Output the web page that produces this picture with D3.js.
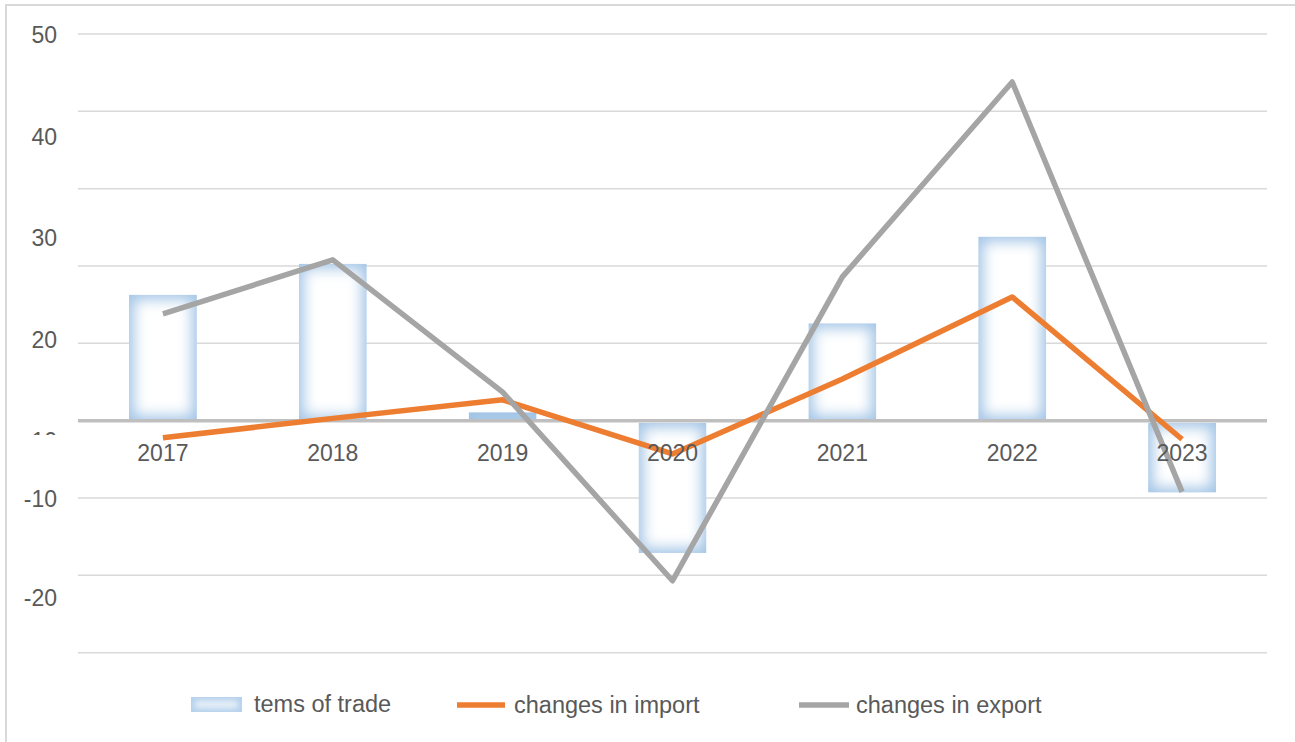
<!DOCTYPE html>
<html>
<head>
<meta charset="utf-8">
<script src="https://cdn.jsdelivr.net/npm/d3@7"></script>
<style>
  body { margin: 0; background: #fff; }
  text { font-family: "Liberation Sans", Arial, sans-serif; fill: #595959; }
</style>
</head>
<body>
<div class="chart"></div>
<script>
// chart data
const years = ['2017', '2018', '2019', '2020', '2021', '2022', '2023'];
const termsOfTrade = [16.3, 20.3, 1.1, -17.1, 12.6, 23.8, -9.3];
const importChange = [-2.2, 0.3, 2.7, -4.3, 5.4, 16.0, -2.4];
const exportChange = [13.8, 20.8, 3.7, -20.7, 18.6, 43.8, -9.2];
const gridValues = [50, 40, 30, 20, 10, 0, -10, -20, -30];
const yLabels = [50, 40, 30, 20, 10, -10, -20];
const seriesNames = ['tems of trade', 'changes in import', 'changes in export'];

const W = 1295, H = 742;
const plot = { left: 78, right: 1267, top: 34, bottom: 652.7 };

const svg = d3.select('.chart').append('svg').attr('width', W).attr('height', H);
const defs = svg.append('defs');

// soft white glow used for the bar fill
defs.append('filter').attr('id', 'soft')
    .attr('x', '-50%').attr('y', '-50%').attr('width', '200%').attr('height', '200%')
    .append('feGaussianBlur').attr('stdDeviation', 7);
defs.append('filter').attr('id', 'softSmall')
    .attr('x', '-50%').attr('y', '-50%').attr('width', '200%').attr('height', '200%')
    .append('feGaussianBlur').attr('stdDeviation', 3);

// outer border (top and left only visible)
svg.append('rect').attr('x', 6).attr('y', 5).attr('width', W + 10).attr('height', H + 10)
   .attr('fill', 'none').attr('stroke', '#d9d9d9').attr('stroke-width', 2);

const x = d3.scaleBand().domain(years).range([plot.left, plot.right]).paddingInner(0.6).paddingOuter(0.3);
const y = d3.scaleLinear().domain([-30, 50]).range([plot.bottom, plot.top]);
// the y labels in the picture sit off the gridlines
const yLab = d3.scaleLinear().domain([50, 10, -10, -20]).range([35, 441, 499, 598]);
const cx = d => x(d) + x.bandwidth() / 2;

// gridlines
svg.append('g').selectAll('line').data(gridValues.filter(v => v !== 0)).enter().append('line')
   .attr('x1', plot.left).attr('x2', plot.right)
   .attr('y1', d => y(d)).attr('y2', d => y(d))
   .attr('stroke', '#d9d9d9').attr('stroke-width', 1.5);

// bars: blue rect with blurred white core
const bars = svg.append('g').selectAll('g').data(years).enter().append('g');
bars.each(function(d, i) {
  const v = termsOfTrade[i];
  const bx = x(d), bw = x.bandwidth();
  const by = v >= 0 ? y(v) : y(0) + 2;
  const bh = v >= 0 ? y(0) - y(v) : y(v) - y(0) - 2;
  const id = 'clip' + i;
  defs.append('clipPath').attr('id', id).append('rect')
      .attr('x', bx).attr('y', by).attr('width', bw).attr('height', bh);
  const g = d3.select(this).attr('clip-path', 'url(#' + id + ')');
  g.append('rect').attr('x', bx).attr('y', by).attr('width', bw).attr('height', bh).attr('fill', '#a3c5e6');
  if (bh > 14) {
    g.append('rect').attr('x', bx + 5).attr('y', by + 5).attr('width', bw - 10).attr('height', bh - 10)
     .attr('fill', '#fff').attr('filter', 'url(#soft)');
  } else {
    g.append('rect').attr('x', bx + 6).attr('y', by + bh / 2 - 1).attr('width', bw - 12).attr('height', 2)
     .attr('fill', '#fff').attr('opacity', 0.25).attr('filter', 'url(#softSmall)');
  }
});

// zero line
svg.append('line').attr('x1', plot.left).attr('x2', plot.right)
   .attr('y1', y(0)).attr('y2', y(0)).attr('stroke', '#bfbfbf').attr('stroke-width', 3.5);

// lines
const line = d3.line().x((d, i) => cx(years[i])).y(d => y(d));
svg.append('path').datum(importChange).attr('d', line)
   .attr('fill', 'none').attr('stroke', '#ed7d31').attr('stroke-width', 5.5).attr('stroke-linejoin', 'round');
svg.append('path').datum(exportChange).attr('d', line)
   .attr('fill', 'none').attr('stroke', '#a5a5a5').attr('stroke-width', 5.5).attr('stroke-linejoin', 'round');

// category labels
svg.append('g').selectAll('text').data(years).enter().append('text')
   .attr('x', d => cx(d)).attr('y', y(0) + 40)
   .attr('text-anchor', 'middle').attr('font-size', 23).text(d => d);

// y labels, the "10" is cut off by the category label strip
const lc = defs.append('clipPath').attr('id', 'ylabclip');
lc.append('rect').attr('x', 0).attr('y', 0).attr('width', 80).attr('height', 435);
lc.append('rect').attr('x', 0).attr('y', 470).attr('width', 80).attr('height', 300);
svg.append('g').attr('clip-path', 'url(#ylabclip)')
   .selectAll('text').data(yLabels).enter().append('text')
   .attr('x', 57).attr('y', d => yLab(d) + 8.3)
   .attr('text-anchor', 'end').attr('font-size', 23).text(d => d);

// legend
const legendX = [191, 457, 799];
const legend = svg.append('g').selectAll('g').data(seriesNames).enter().append('g')
   .attr('transform', (d, i) => 'translate(' + legendX[i] + ',704)');
legend.each(function(d, i) {
  const g = d3.select(this);
  if (i === 0) {
    defs.append('clipPath').attr('id', 'legclip').append('rect')
        .attr('x', 0).attr('y', -7).attr('width', 51).attr('height', 15);
    const lg = g.append('g').attr('clip-path', 'url(#legclip)');
    lg.append('rect').attr('x', 0).attr('y', -7).attr('width', 51).attr('height', 15).attr('fill', '#b4d0ec');
    lg.append('rect').attr('x', 4).attr('y', -3).attr('width', 43).attr('height', 7)
      .attr('fill', '#fff').attr('opacity', 0.8).attr('filter', 'url(#softSmall)');
    g.append('text').attr('x', 63).attr('y', 8).attr('font-size', 23.5).text(d);
  } else {
    g.append('line').attr('x1', 0).attr('x2', i === 1 ? 48 : 50).attr('y1', 1).attr('y2', 1)
     .attr('stroke', i === 1 ? '#ed7d31' : '#a5a5a5').attr('stroke-width', 5.5);
    g.append('text').attr('x', 57).attr('y', 9).attr('font-size', 23.5).text(d);
  }
});
</script>
</body>
</html>
